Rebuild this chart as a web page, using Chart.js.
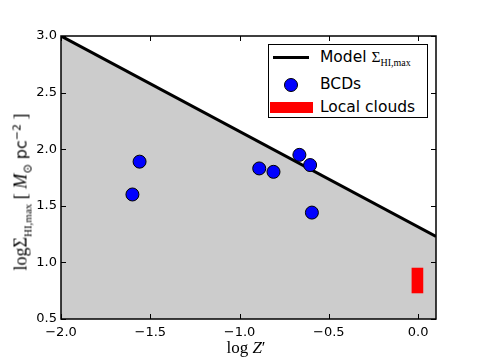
<!DOCTYPE html>
<html>
<head>
<meta charset="utf-8">
<script src="https://cdn.jsdelivr.net/npm/chart.js@4.4.0/dist/chart.umd.min.js"></script>
<style>
  body { margin: 0; background: #fff; }
  #wrap { position: relative; width: 485px; height: 363px; }
  canvas { position: absolute; left: 0; top: 0; }
  .serif { font-family: "Liberation Serif", "DejaVu Serif", serif; }
  .sans { font-family: "DejaVu Sans", sans-serif; }
  #ytitle {
    position: absolute; left: 21px; top: 192px; white-space: nowrap;
    transform: translate(-50%, -50%) rotate(-90deg);
    font-size: 18px; color: #000;
  }
  #xtitle {
    position: absolute; left: 246px; top: 348px; white-space: nowrap;
    transform: translate(-50%, -50%); font-size: 17px; color: #000;
  }
  #legend {
    position: absolute; left: 268px; top: 44px; width: 160px; height: 74px;
    border: 1px solid #000; background: #fff; box-sizing: border-box;
  }
  .row { position: absolute; left: 0; font-size: 15.5px; color: #000; line-height: 18px; }
  .lbl { position: absolute; left: 51px; white-space: nowrap; }
  sub, sup { line-height: 0; }
</style>
</head>
<body>
<div id="wrap">
  <canvas id="myChart" width="485" height="363"></canvas>
  <div id="ytitle"><span class="serif">logΣ<sub style="font-size:11px">HI,max</sub> [ <i>M</i><sub style="font-size:12px">⊙</sub></span> <span class="sans" style="font-size:16px">pc<sup style="font-size:11px">−2</sup></span> <span class="serif">]</span></div>
  <div id="xtitle" class="serif">log <i>Z</i>′</div>
  <div id="legend">
    <div style="position:absolute;left:4px;top:11px;width:36px;height:3px;background:#000"></div>
    <div style="position:absolute;left:15px;top:33px;width:12px;height:12px;border-radius:50%;background:#00f;border:1px solid #000"></div>
    <div style="position:absolute;left:1px;top:57px;width:43px;height:11px;background:#f00"></div>
    <div class="row" style="top:3px"><span class="lbl sans">Model <span class="serif">Σ<sub style="font-size:10px">HI,max</sub></span></span></div>
    <div class="row" style="top:30px"><span class="lbl sans">BCDs</span></div>
    <div class="row" style="top:53px"><span class="lbl sans">Local clouds</span></div>
  </div>
</div>
<script>
// model line end points
const modelX = [-2.0, 0.1];
const modelY = [3.0, 1.23];

// blue compact dwarfs
const bcdX = [-1.60, -1.56, -0.89, -0.81, -0.665, -0.605, -0.595];
const bcdY = [1.60, 1.89, 1.83, 1.80, 1.95, 1.86, 1.44];

// local clouds range
const cloudX = [-0.004];
const cloudLow = [0.73];
const cloudHigh = [0.95];

const xTicks = [-2.0, -1.5, -1.0, -0.5, 0.0];
const yTicks = [0.5, 1.0, 1.5, 2.0, 2.5, 3.0];

function fmt(v) {
  return v.toFixed(1).replace('-', '\u2212');
}

const frame = {
  id: 'frame',
  afterDatasetsDraw(chart) {
    const ctx = chart.ctx;
    const a = chart.chartArea;
    const sx = chart.scales.x, sy = chart.scales.y;
    ctx.save();
    ctx.strokeStyle = '#000';
    ctx.lineWidth = 1;
    ctx.beginPath();
    sx.ticks.forEach(t => {
      const px = Math.round(sx.getPixelForValue(t.value)) + 0.5;
      ctx.moveTo(px, a.bottom); ctx.lineTo(px, a.bottom - 5);
      ctx.moveTo(px, a.top); ctx.lineTo(px, a.top + 5);
    });
    sy.ticks.forEach(t => {
      const py = Math.round(sy.getPixelForValue(t.value)) + 0.5;
      ctx.moveTo(a.left, py); ctx.lineTo(a.left + 5, py);
      ctx.moveTo(a.right, py); ctx.lineTo(a.right - 5, py);
    });
    ctx.stroke();
    ctx.lineWidth = 1.5;
    ctx.strokeRect(a.left, a.top, a.right - a.left, a.bottom - a.top);
    ctx.restore();
  }
};

const ctx = document.getElementById('myChart').getContext('2d');

const config = {
  type: 'scatter',
  data: {
    datasets: [
      {
        type: 'scatter',
        label: 'BCDs',
        data: bcdX.map((x, i) => ({x: x, y: bcdY[i]})),
        backgroundColor: '#0000ff',
        borderColor: '#000',
        borderWidth: 1,
        pointRadius: 6.5,
        order: 0
      },
      {
        type: 'bar',
        label: 'Local clouds',
        data: cloudX.map((x, i) => ({x: x, y: [cloudLow[i], cloudHigh[i]]})),
        backgroundColor: '#ff0000',
        borderWidth: 0,
        barThickness: 11,
        order: 1
      },
      {
        type: 'line',
        label: 'Model',
        data: modelX.map((x, i) => ({x: x, y: modelY[i]})),
        borderColor: '#000',
        borderWidth: 3,
        pointRadius: 0,
        fill: 'start',
        backgroundColor: '#cccccc',
        order: 2
      }
    ]
  },
  options: {
    responsive: false,
    animation: false,
    layout: { padding: { top: 36, right: 49, left: 0, bottom: 0 } },
    plugins: { legend: { display: false }, tooltip: { enabled: false } },
    scales: {
      x: {
        type: 'linear', min: -2.0, max: 0.1, offset: false,
        afterBuildTicks: s => { s.ticks = xTicks.map(v => ({value: v})); },
        afterFit: s => { s.height = 44; },
        grid: { display: false, drawTicks: false },
        border: { display: false },
        ticks: {
          padding: 6, color: '#000', maxRotation: 0,
          font: { family: 'DejaVu Sans', size: 13 },
          callback: v => fmt(v)
        }
      },
      y: {
        type: 'linear', min: 0.5, max: 3.0,
        afterBuildTicks: s => { s.ticks = yTicks.map(v => ({value: v})); },
        afterFit: s => { s.width = 61; },
        grid: { display: false, drawTicks: false },
        border: { display: false },
        ticks: {
          padding: 4, color: '#000',
          font: { family: 'DejaVu Sans', size: 13 },
          callback: v => fmt(v)
        }
      }
    }
  },
  plugins: [frame]
};

const myChart = new Chart(ctx, config);
</script>
</body>
</html>
